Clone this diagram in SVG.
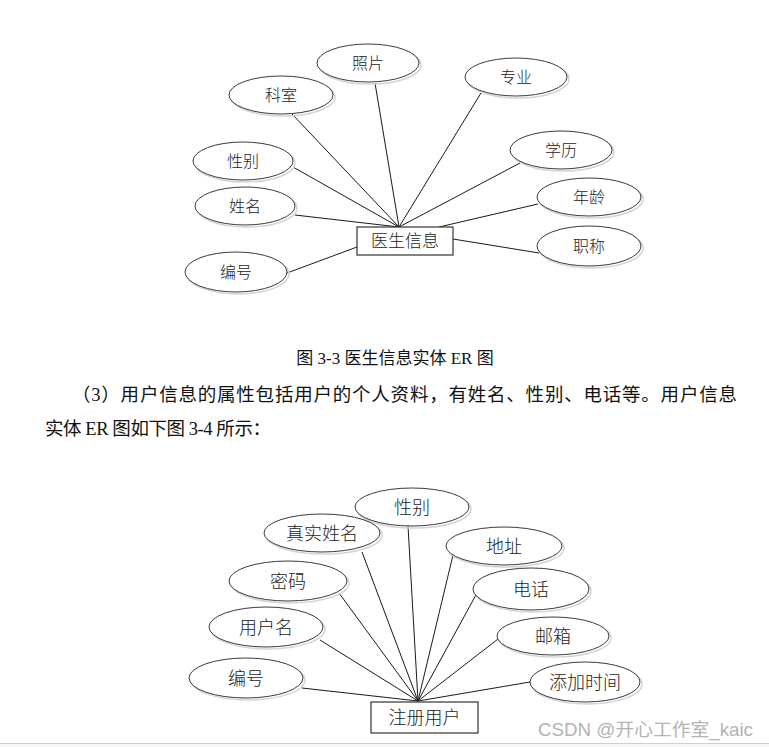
<svg xmlns="http://www.w3.org/2000/svg" width="769" height="747" viewBox="0 0 769 747">
<style>
  .bg{fill:#ffffff}
  .conn line{stroke:#1a1a1a;stroke-width:1}
  .sh{fill:none;stroke:#d4d4d4;stroke-width:1.5}
  .el{fill:#ffffff;stroke:#3a3a3a;stroke-width:1}
  .box{fill:#ffffff;stroke:#333333;stroke-width:1.2}
  .lbl{font-family:"Noto Sans CJK SC","Liberation Sans",sans-serif;font-weight:300;fill:#222;text-anchor:middle}
  .t1{font-size:16px}
  .t2{font-size:17px}
  .t3{font-size:18px}
  .txt{font-family:"Liberation Serif","Noto Sans CJK SC",serif;fill:#111;font-size:17px}
  .para{font-family:"Liberation Serif","Noto Sans CJK SC",serif;fill:#111;font-size:18.5px}
  .wm{font-family:"Liberation Sans","Noto Sans CJK SC",sans-serif;fill:#b3b3b3;font-size:18px}
</style>
<rect class="bg" x="0" y="0" width="769" height="747"/>

<!-- Top diagram connectors -->
<g id="connectors-doctor" class="conn">
  <line x1="292" y1="114" x2="399" y2="227"/>
  <line x1="375" y1="83" x2="399" y2="227"/>
  <line x1="293" y1="167" x2="399" y2="227"/>
  <line x1="295" y1="215" x2="399" y2="227"/>
  <line x1="287" y1="273" x2="357" y2="247"/>
  <line x1="481" y1="93" x2="399" y2="227"/>
  <line x1="520" y1="163" x2="399" y2="227"/>
  <line x1="538" y1="204" x2="439" y2="227"/>
  <line x1="539" y1="253" x2="453" y2="239"/>
</g>

<g id="doc-photo"><ellipse class="sh" cx="370" cy="65" rx="51" ry="19"/><ellipse class="el" cx="368" cy="63" rx="51" ry="19"/><text class="lbl t1" x="368" y="69">照片</text></g>
<g id="doc-dept"><ellipse class="sh" cx="283" cy="97" rx="52" ry="19"/><ellipse class="el" cx="281" cy="95" rx="52" ry="19"/><text class="lbl t1" x="281" y="101">科室</text></g>
<g id="doc-gender"><ellipse class="sh" cx="245" cy="163" rx="50" ry="19"/><ellipse class="el" cx="243" cy="161" rx="50" ry="19"/><text class="lbl t1" x="243" y="167">性别</text></g>
<g id="doc-name"><ellipse class="sh" cx="247" cy="208" rx="50" ry="19"/><ellipse class="el" cx="245" cy="206" rx="50" ry="19"/><text class="lbl t1" x="245" y="212">姓名</text></g>
<g id="doc-id"><ellipse class="sh" cx="238" cy="274" rx="51" ry="20"/><ellipse class="el" cx="236" cy="272" rx="51" ry="20"/><text class="lbl t1" x="236" y="278">编号</text></g>
<g id="doc-major"><ellipse class="sh" cx="518" cy="79" rx="51" ry="19"/><ellipse class="el" cx="516" cy="77" rx="51" ry="19"/><text class="lbl t1" x="516" y="83">专业</text></g>
<g id="doc-edu"><ellipse class="sh" cx="563" cy="152" rx="51" ry="19"/><ellipse class="el" cx="561" cy="150" rx="51" ry="19"/><text class="lbl t1" x="561" y="156">学历</text></g>
<g id="doc-age"><ellipse class="sh" cx="591" cy="199" rx="52" ry="19"/><ellipse class="el" cx="589" cy="197" rx="52" ry="19"/><text class="lbl t1" x="589" y="203">年龄</text></g>
<g id="doc-title"><ellipse class="sh" cx="591" cy="248" rx="52" ry="20"/><ellipse class="el" cx="589" cy="246" rx="52" ry="20"/><text class="lbl t1" x="589" y="252">职称</text></g>
<g id="doc-entity"><rect class="box" x="357" y="227" width="96" height="28"/><text class="lbl t2" x="405" y="247">医生信息</text></g>

<!-- Caption and paragraph -->
<text class="txt" x="395" y="364" text-anchor="middle">图 3-3 医生信息实体 ER 图</text>
<text class="para" x="72" y="401" textLength="665" lengthAdjust="spacing">（3）用户信息的属性包括用户的个人资料，有姓名、性别、电话等。用户信息</text>
<text class="para" x="45" y="435" textLength="226" lengthAdjust="spacing">实体 ER 图如下图 3-4 所示：</text>

<!-- Bottom diagram connectors -->
<g id="connectors-user" class="conn">
  <line x1="362" y1="552" x2="418" y2="701"/>
  <line x1="408" y1="526" x2="418" y2="701"/>
  <line x1="339" y1="593" x2="418" y2="701"/>
  <line x1="320" y1="640" x2="418" y2="701"/>
  <line x1="302" y1="688" x2="418" y2="701"/>
  <line x1="453" y1="555" x2="418" y2="701"/>
  <line x1="477" y1="593" x2="418" y2="701"/>
  <line x1="498" y1="639" x2="418" y2="701"/>
  <line x1="530" y1="682" x2="418" y2="701"/>
</g>

<g id="user-gender"><ellipse class="sh" cx="414" cy="509" rx="57" ry="19"/><ellipse class="el" cx="412" cy="507" rx="57" ry="19"/><text class="lbl t3" x="412" y="514">性别</text></g>
<g id="user-realname"><ellipse class="sh" cx="324" cy="535" rx="58" ry="19"/><ellipse class="el" cx="322" cy="533" rx="58" ry="19"/><text class="lbl t3" x="322" y="540">真实姓名</text></g>
<g id="user-password"><ellipse class="sh" cx="290" cy="583" rx="59" ry="20"/><ellipse class="el" cx="288" cy="581" rx="59" ry="20"/><text class="lbl t3" x="288" y="588">密码</text></g>
<g id="user-username"><ellipse class="sh" cx="268" cy="629" rx="57" ry="20"/><ellipse class="el" cx="266" cy="627" rx="57" ry="20"/><text class="lbl t3" x="266" y="634">用户名</text></g>
<g id="user-id"><ellipse class="sh" cx="248" cy="680" rx="57" ry="20"/><ellipse class="el" cx="246" cy="678" rx="57" ry="20"/><text class="lbl t3" x="246" y="685">编号</text></g>
<g id="user-address"><ellipse class="sh" cx="506" cy="548" rx="58" ry="19"/><ellipse class="el" cx="504" cy="546" rx="58" ry="19"/><text class="lbl t3" x="504" y="553">地址</text></g>
<g id="user-phone"><ellipse class="sh" cx="533" cy="591" rx="58" ry="21"/><ellipse class="el" cx="531" cy="589" rx="58" ry="21"/><text class="lbl t3" x="531" y="596">电话</text></g>
<g id="user-email"><ellipse class="sh" cx="555" cy="638" rx="56" ry="19"/><ellipse class="el" cx="553" cy="636" rx="56" ry="19"/><text class="lbl t3" x="553" y="643">邮箱</text></g>
<g id="user-addtime"><ellipse class="sh" cx="587" cy="684" rx="55" ry="20"/><ellipse class="el" cx="585" cy="682" rx="55" ry="20"/><text class="lbl t3" x="585" y="689">添加时间</text></g>
<g id="user-entity"><rect class="box" x="371" y="702" width="107" height="31"/><text class="lbl t3" x="424.5" y="724">注册用户</text></g>

<!-- Watermark and bottom edge -->
<text class="wm" x="538" y="736" textLength="215" lengthAdjust="spacingAndGlyphs">CSDN @开心工作室_kaic</text>
<rect x="0" y="744" width="769" height="3" fill="#f6f6f6"/>
<line x1="0" y1="743.5" x2="769" y2="743.5" stroke="#cfcfcf" stroke-width="1"/>
</svg>
